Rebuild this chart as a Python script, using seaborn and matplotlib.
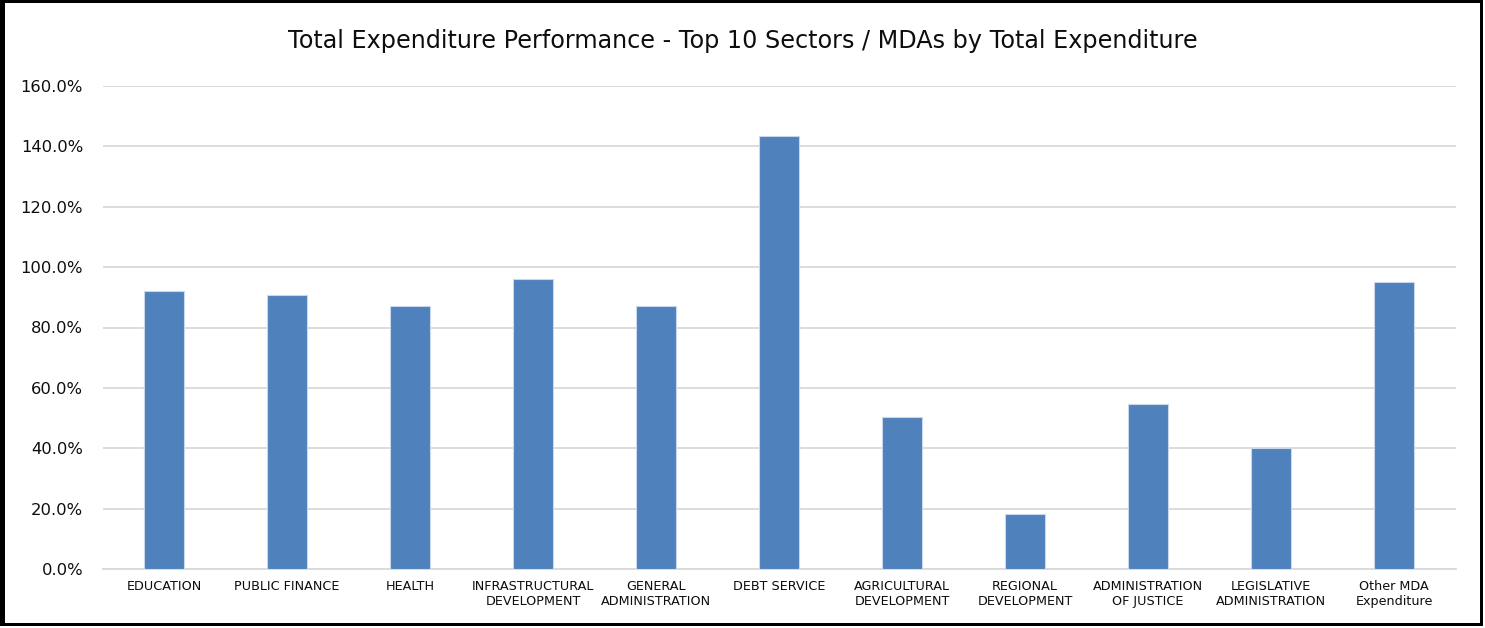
import matplotlib
matplotlib.use("Agg")
import matplotlib.pyplot as plt
import matplotlib.ticker as mticker
from matplotlib.patches import Rectangle
import seaborn as sns
import pandas as pd

# Sector / MDA names as shown on the category axis
sectors = [
    "EDUCATION",
    "PUBLIC FINANCE",
    "HEALTH",
    "INFRASTRUCTURAL\nDEVELOPMENT",
    "GENERAL\nADMINISTRATION",
    "DEBT SERVICE",
    "AGRICULTURAL\nDEVELOPMENT",
    "REGIONAL\nDEVELOPMENT",
    "ADMINISTRATION\nOF JUSTICE",
    "LEGISLATIVE\nADMINISTRATION",
    "Other MDA\nExpenditure",
]

# Expenditure performance (actual vs. budget), in percent
performance = [92.2, 90.8, 87.1, 96.0, 87.1, 143.6, 50.2, 18.2, 54.5, 40.1, 95.2]

y_ticks = [0, 20, 40, 60, 80, 100, 120, 140, 160]

df = pd.DataFrame({"sector": sectors, "performance": performance})

sns.set_theme(style="white")
plt.rcParams["font.family"] = ["DejaVu Sans"]

W, H = 1485, 628
fig = plt.figure(figsize=(W / 100, H / 100), dpi=100)
ax = fig.add_axes([102.5 / W, 1 - 569 / H, 1353 / W, 483 / H])

sns.barplot(
    data=df, x="sector", y="performance", ax=ax,
    color="#4F81BD", saturation=1, width=0.32,
    edgecolor="#C9D7EA", linewidth=0.8, zorder=3,
)

ax.set_ylim(0, 160)
ax.set_xlim(-0.5, len(sectors) - 0.5)
ax.set_yticks(y_ticks)
ax.yaxis.set_major_formatter(mticker.FuncFormatter(lambda v, _: f"{v:.1f}%"))
ax.grid(axis="y", color="#D9D9D9", linewidth=1.3, zorder=0)
ax.set_axisbelow(True)

for side in ("top", "right", "left"):
    ax.spines[side].set_visible(False)
ax.spines["bottom"].set_color("#D9D9D9")
ax.spines["bottom"].set_linewidth(1.3)

ax.tick_params(axis="y", length=0, pad=14, labelsize=11.8, labelcolor="#0d0d0d")
ax.tick_params(axis="x", length=0, pad=8, labelsize=9.2, labelcolor="#0d0d0d")
ax.set_xlabel("")
ax.set_ylabel("")

fig.text(
    0.5, 1 - 48 / H,
    "Total Expenditure Performance - Top 10 Sectors / MDAs by Total Expenditure",
    ha="center", va="baseline", fontsize=17.2, color="#0d0d0d",
)

# Black frame around the whole chart (edges given in pixels: x0, y0_top, width, height)
frame_edges = [
    (0, 0, 5, 626),        # left
    (0, 0, 1483, 3),       # top
    (1480, 0, 3, 626),     # right
    (0, 623, 1483, 3),     # bottom
]
for x0, y0, w, h in frame_edges:
    fig.patches.append(Rectangle((x0 / W, 1 - (y0 + h) / H), w / W, h / H,
                                 transform=fig.transFigure, facecolor="black",
                                 edgecolor="none"))

fig.savefig("out.png", dpi=100, facecolor="white")
